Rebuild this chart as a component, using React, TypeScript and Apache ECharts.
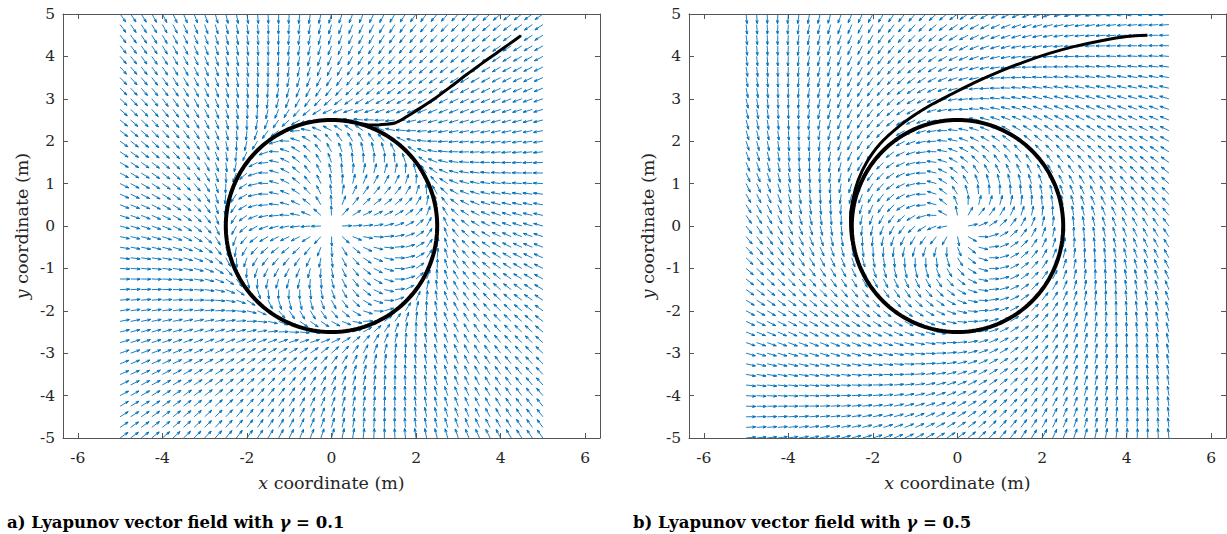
import React, { useEffect, useRef } from "react";
import * as echarts from "echarts";

// ---- data ----
const gridX = [-5, -4.75, -4.5, -4.25, -4, -3.75, -3.5, -3.25, -3, -2.75, -2.5, -2.25, -2, -1.75, -1.5, -1.25, -1, -0.75, -0.5, -0.25, 0, 0.25, 0.5, 0.75, 1, 1.25, 1.5, 1.75, 2, 2.25, 2.5, 2.75, 3, 3.25, 3.5, 3.75, 4, 4.25, 4.5, 4.75, 5];
const gridY = [-5, -4.75, -4.5, -4.25, -4, -3.75, -3.5, -3.25, -3, -2.75, -2.5, -2.25, -2, -1.75, -1.5, -1.25, -1, -0.75, -0.5, -0.25, 0, 0.25, 0.5, 0.75, 1, 1.25, 1.5, 1.75, 2, 2.25, 2.5, 2.75, 3, 3.25, 3.5, 3.75, 4, 4.25, 4.5, 4.75, 5];
const gammaValues = [0.1, 0.5];
const standoffRadius = 2.5;
const xTicks = [-6, -4, -2, 0, 2, 4, 6];
const yTicks = [-5, -4, -3, -2, -1, 0, 1, 2, 3, 4, 5];
const trajectoryA = [
  [4.48, 4.49], [4.2, 4.29], [3.89, 4.07], [3.55, 3.83], [3.18, 3.56], [2.8, 3.27],
  [2.39, 2.97], [2.1, 2.78], [1.84, 2.62], [1.65, 2.5], [1.5, 2.43], [1.29, 2.4],
  [0.98, 2.38], [0.66, 2.42], [0.3, 2.48], [0.0, 2.5],
];
const trajectoryB = [
  [4.49, 4.5], [4.0, 4.47], [3.4, 4.37], [2.75, 4.23], [2.17, 4.07], [1.55, 3.86],
  [0.99, 3.64], [0.4, 3.38], [-0.2, 3.08], [-0.6, 2.87], [-0.98, 2.64], [-1.37, 2.36],
  [-1.84, 1.93], [-2.15, 1.5], [-2.35, 1.08], [-2.47, 0.65], [-2.53, 0.2], [-2.51, -0.25],
  [-2.43, -0.6],
];
const captionPrefix = ["a) Lyapunov vector field with ", "b) Lyapunov vector field with "];
const captionValue = [" = 0.1", " = 0.5"];

const FONT = "DejaVu Serif";
const ARROW_LEN = 0.225;

function fieldData(gamma: number) {
  const out: number[][] = [];
  const rd = standoffRadius;
  for (const y of gridY) {
    for (const x of gridX) {
      const r = Math.hypot(x, y);
      if (r === 0) continue;
      const radial = -(r * r - rd * rd);
      const tang = 4 * gamma * r * rd;
      const u = radial * x - tang * y;
      const v = radial * y + tang * x;
      const m = Math.hypot(u, v);
      out.push([x, y, u / m, v / m]);
    }
  }
  return out;
}

function circleData() {
  const pts: number[][] = [];
  for (let a = 0; a <= 360; a += 2) {
    const t = (a * Math.PI) / 180;
    pts.push([standoffRadius * Math.cos(t), standoffRadius * Math.sin(t)]);
  }
  return pts;
}

const renderArrow = (params: any, api: any) => {
  const x = api.value(0), y = api.value(1), u = api.value(2), v = api.value(3);
  const p0 = api.coord([x, y]);
  const p1 = api.coord([x + u * ARROW_LEN, y + v * ARROW_LEN]);
  const dx = p1[0] - p0[0], dy = p1[1] - p0[1];
  const a = 0.33, b = 0.33;
  const h1 = [p1[0] - a * (dx + b * dy), p1[1] - a * (dy - b * dx)];
  const h2 = [p1[0] - a * (dx - b * dy), p1[1] - a * (dy + b * dx)];
  return {
    type: "polyline",
    shape: { points: [p0, p1, h1, p1, h2] },
    style: { stroke: "#0072BD", fill: null, lineWidth: 0.9 },
    silent: true,
  };
};

const AXIS_COLOR = "#555";
const LABEL_COLOR = "#262626";
const TICK_SIZE = 15.5;
const NAME_SIZE = 17.5;
const CAPTION_SIZE = 16.5;

function xAxes(gridIndex: number) {
  const common = {
    type: "value",
    gridIndex,
    min: -6.35,
    max: 6.35,
    splitLine: { show: false },
    axisLine: { show: true, onZero: false, lineStyle: { color: AXIS_COLOR, width: 1 } },
    axisTick: { show: true, inside: true, length: 5, customValues: xTicks, lineStyle: { color: AXIS_COLOR } },
  };
  return [
    {
      ...common,
      position: "bottom",
      axisLabel: { show: true, customValues: xTicks, margin: 12, fontSize: TICK_SIZE, fontFamily: FONT, color: LABEL_COLOR },
      name: "{i|x} coordinate (m)",
      nameLocation: "middle",
      nameGap: 36,
      nameTextStyle: {
        fontSize: NAME_SIZE, fontFamily: FONT, color: LABEL_COLOR,
        rich: { i: { fontStyle: "italic", fontSize: NAME_SIZE, fontFamily: FONT, color: LABEL_COLOR } },
      },
    },
    { ...common, position: "top", axisLabel: { show: false } },
  ];
}

function yAxes(gridIndex: number) {
  const common = {
    type: "value",
    gridIndex,
    min: -5,
    max: 5,
    interval: 1,
    splitLine: { show: false },
    axisLine: { show: true, onZero: false, lineStyle: { color: AXIS_COLOR, width: 1 } },
    axisTick: { show: true, inside: true, length: 5, customValues: yTicks, lineStyle: { color: AXIS_COLOR } },
  };
  return [
    {
      ...common,
      position: "left",
      axisLabel: { show: true, customValues: yTicks, margin: 8, fontSize: TICK_SIZE, fontFamily: FONT, color: LABEL_COLOR },
      name: "{i|y} coordinate (m)",
      nameLocation: "middle",
      nameRotate: 90,
      nameGap: 32,
      nameTextStyle: {
        fontSize: NAME_SIZE, fontFamily: FONT, color: LABEL_COLOR,
        rich: { i: { fontStyle: "italic", fontSize: NAME_SIZE, fontFamily: FONT, color: LABEL_COLOR } },
      },
    },
    { ...common, position: "right", axisLabel: { show: false } },
  ];
}

export default function App() {
  const ref = useRef<HTMLDivElement>(null);
  useEffect(() => {
    if (!ref.current) return;
    const chart = echarts.init(ref.current, undefined, { renderer: "svg" });
    const trajectories = [trajectoryA, trajectoryB];
    const series: any[] = [];
    gammaValues.forEach((g, i) => {
      series.push({
        type: "custom",
        xAxisIndex: i * 2,
        yAxisIndex: i * 2,
        coordinateSystem: "cartesian2d",
        dimensions: ["x", "y", "u", "v"],
        encode: { x: 0, y: 1 },
        data: fieldData(g),
        renderItem: renderArrow,
        clip: true,
        silent: true,
        z: 2,
      });
      series.push({
        type: "line",
        xAxisIndex: i * 2,
        yAxisIndex: i * 2,
        data: circleData(),
        symbol: "none",
        showSymbol: false,
        lineStyle: { color: "#000", width: 4 },
        silent: true,
        z: 3,
      });
      series.push({
        type: "line",
        xAxisIndex: i * 2,
        yAxisIndex: i * 2,
        data: trajectories[i],
        symbol: "none",
        showSymbol: false,
        smooth: 0.3,
        lineStyle: { color: "#000", width: 3 },
        silent: true,
        z: 4,
      });
    });
    const captionLeft = [7, 633];
    chart.setOption({
      animation: false,
      textStyle: { fontFamily: FONT },
      grid: [
        { left: 63, top: 14, width: 537, height: 424 },
        { left: 689, top: 14, width: 537, height: 424 },
      ],
      xAxis: [...xAxes(0), ...xAxes(1)],
      yAxis: [...yAxes(0), ...yAxes(1)],
      series,
      graphic: captionLeft.map((left, i) => ({
        type: "text",
        left,
        top: 514,
        style: {
          text: `{b|${captionPrefix[i]}}{g|γ}{b|${captionValue[i]}}`,
          fontFamily: FONT,
          fontSize: CAPTION_SIZE,
          fontWeight: "bold",
          rich: {
            b: { fontSize: CAPTION_SIZE, fontWeight: "bold", fontFamily: FONT, fill: "#000" },
            g: { fontSize: CAPTION_SIZE, fontWeight: "bold", fontStyle: "italic", fontFamily: FONT, fill: "#000" },
          },
        },
      })),
    });
    return () => chart.dispose();
  }, []);
  return (
    <div
      ref={ref}
      style={{ position: "absolute", left: 0, top: 0, width: 1227, height: 534, background: "#fff" }}
    />
  );
}
